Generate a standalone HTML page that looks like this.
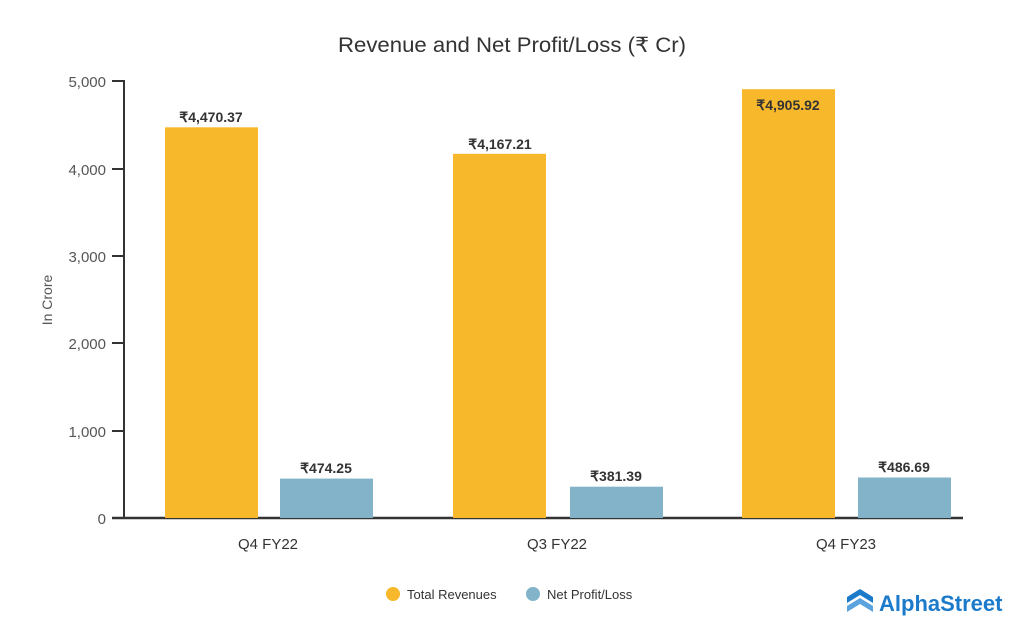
<!DOCTYPE html>
<html><head><meta charset="utf-8"><style>
html,body{margin:0;padding:0;background:#fff;}
svg{display:block;font-family:"Liberation Sans",sans-serif;}
</style></head><body>
<svg width="1024" height="640" viewBox="0 0 1024 640">
<text x="512" y="52" text-anchor="middle" font-size="21" fill="#333" textLength="348" lengthAdjust="spacingAndGlyphs">Revenue and Net Profit/Loss (₹ Cr)</text>
<g font-size="15" fill="#555" text-anchor="end">
<text x="106" y="87">5,000</text>
<text x="106" y="175">4,000</text>
<text x="106" y="262">3,000</text>
<text x="106" y="349">2,000</text>
<text x="106" y="437">1,000</text>
<text x="106" y="524">0</text>
</g>
<g stroke="#333" stroke-width="2">
<line x1="112" y1="81" x2="124" y2="81"/>
<line x1="112" y1="169" x2="124" y2="169"/>
<line x1="112" y1="256" x2="124" y2="256"/>
<line x1="112" y1="343" x2="124" y2="343"/>
<line x1="112" y1="431" x2="124" y2="431"/>
<line x1="124" y1="80" x2="124" y2="519"/>
<line x1="112" y1="518" x2="963" y2="518" stroke-width="2.5"/>
</g>
<text transform="translate(52,300) rotate(-90)" text-anchor="middle" font-size="14" fill="#555">In Crore</text>
<g fill="#F7B92B">
<rect x="165" y="127.3" width="93" height="390.7"/>
<rect x="453" y="153.8" width="93" height="364.2"/>
<rect x="742" y="89.2" width="93" height="428.8"/>
</g>
<g fill="#82B3C9">
<rect x="280" y="478.6" width="93" height="39.4"/>
<rect x="570" y="486.7" width="93" height="31.3"/>
<rect x="858" y="477.5" width="93" height="40.5"/>
</g>
<g font-size="14" font-weight="bold" fill="#333" text-anchor="middle">
<text x="211" y="122">₹4,470.37</text>
<text x="500" y="149">₹4,167.21</text>
<text x="788" y="110">₹4,905.92</text>
<text x="326" y="473">₹474.25</text>
<text x="616" y="481">₹381.39</text>
<text x="904" y="472">₹486.69</text>
</g>
<g font-size="15" fill="#333" text-anchor="middle">
<text x="268" y="549">Q4 FY22</text>
<text x="557" y="549">Q3 FY22</text>
<text x="846" y="549">Q4 FY23</text>
</g>
<circle cx="393" cy="594" r="7" fill="#F7B92B"/>
<text x="407" y="599" font-size="13" fill="#333">Total Revenues</text>
<circle cx="533" cy="594" r="7" fill="#82B3C9"/>
<text x="547" y="599" font-size="13" fill="#333">Net Profit/Loss</text>
<g fill="#1C7ACB">
<path d="M847 597 L860 589 L873 597 L873 603 L860 595 L847 603Z"/>
<path d="M847 606 L860 598 L873 606 L873 612 L860 604 L847 612Z" fill="#5AA3DE"/>
</g>
<text x="879" y="611" font-size="22" font-weight="bold" fill="#1C7ACB">AlphaStreet</text>
</svg>
</body></html>
